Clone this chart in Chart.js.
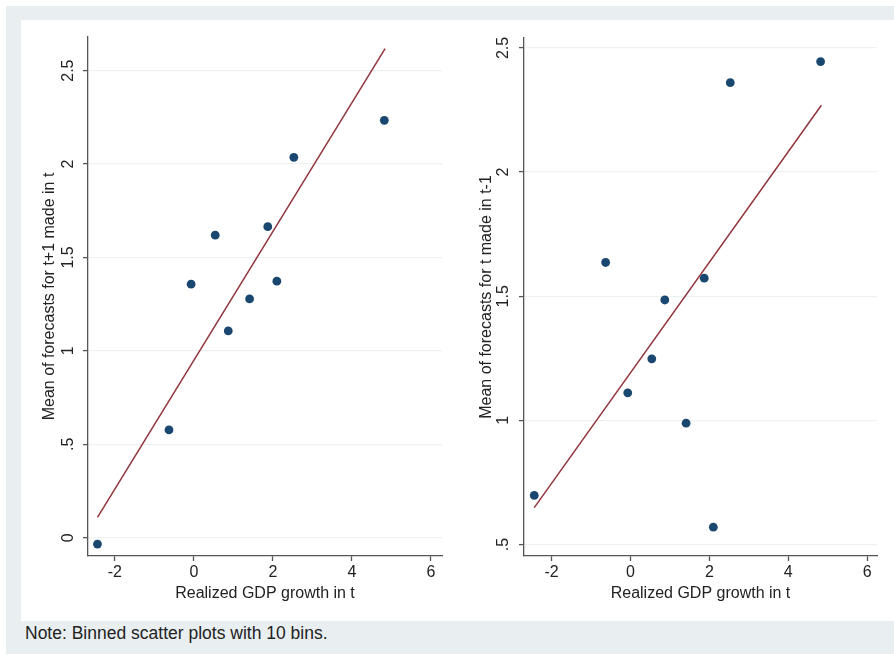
<!DOCTYPE html>
<html>
<head>
<meta charset="utf-8">
<script src="https://cdn.jsdelivr.net/npm/chart.js@4.4.1/dist/chart.umd.min.js"></script>
<style>
  html, body { margin: 0; padding: 0; background: #ffffff; width: 894px; height: 655px; overflow: hidden; }
  #frame { position: absolute; left: 6px; top: 6px; width: 888px; height: 648px; background: #e9eff1; }
  #panel { position: absolute; left: 21px; top: 20px; width: 873px; height: 601px; background: #ffffff; }
  .box { position: absolute; top: 20px; height: 600px; }
  #leftBox { left: 21px; width: 436px; }
  #rightBox { left: 457px; width: 437px; }
  #note { position: absolute; left: 25px; top: 623px; font-family: "Liberation Sans", Arial, sans-serif; font-size: 17.5px; color: #222; white-space: nowrap; }
</style>
</head>
<body>
<div id="frame"></div>
<div id="panel"></div>
<div class="box" id="leftBox"><canvas id="cLeft" width="436" height="600"></canvas></div>
<div class="box" id="rightBox"><canvas id="cRight" width="437" height="600"></canvas></div>
<div id="note">Note: Binned scatter plots with 10 bins.</div>
<script>
// ---- data ----
const gdpBins = [-2.44, -0.63, -0.07, 0.54, 0.87, 1.41, 1.87, 2.10, 2.53, 4.82];
const forecastNext = [-0.034, 0.577, 1.357, 1.619, 1.107, 1.278, 1.665, 1.373, 2.036, 2.234];
const forecastPrev = [0.698, 1.636, 1.111, 1.248, 1.485, 0.989, 1.573, 0.570, 2.360, 2.445];
const fitX = [-2.44, 4.84];
const fitNext = [0.109, 2.618];
const fitPrev = [0.649, 2.269];
const xTicks = [-2, 0, 2, 4, 6];
const yTicksLeft = [0, 0.5, 1, 1.5, 2, 2.5];
const yTicksRight = [0.5, 1, 1.5, 2, 2.5];
const xTitle = "Realized GDP growth in t";
const yTitleLeft = "Mean of forecasts for t+1 made in t";
const yTitleRight = "Mean of forecasts for t made in t-1";

const FONT = '"Liberation Sans", Arial, sans-serif';
const NAVY = '#1a476f';
const MAROON = '#90353b';
const AXIS = '#555555';
const GRID = '#edf1f2';
const TEXT = '#222222';

function stataLabel(v) {
  let s = String(Math.round(v * 100) / 100);
  if (s.startsWith('0.')) s = s.slice(1);
  return s;
}

function makeChart(id, yVals, fitY, yTicks, yTitle, cfg) {
  const pts = gdpBins.map((x, i) => ({ x: x, y: yVals[i] }));
  const fit = fitX.map((x, i) => ({ x: x, y: fitY[i] }));
  const rotatedTicks = {
    id: 'rotatedTicks',
    afterDraw(chart) {
      const sc = chart.scales.y;
      const ctx = chart.ctx;
      ctx.save();
      ctx.fillStyle = TEXT;
      ctx.font = '16px ' + FONT;
      ctx.textAlign = 'center';
      ctx.textBaseline = 'middle';
      sc.ticks.forEach(t => {
        const y = sc.getPixelForValue(t.value);
        ctx.save();
        ctx.translate(cfg.tickX, y);
        ctx.rotate(-Math.PI / 2);
        ctx.fillText(stataLabel(t.value), 0, 0);
        ctx.restore();
      });
      ctx.restore();
    }
  };
  return new Chart(document.getElementById(id), {
    type: 'scatter',
    data: {
      datasets: [
        {
          type: 'line',
          data: fit,
          borderColor: MAROON,
          borderWidth: 1.5,
          pointRadius: 0,
          fill: false,
          order: 2
        },
        {
          type: 'scatter',
          data: pts,
          backgroundColor: NAVY,
          borderColor: NAVY,
          pointRadius: 4.4,
          borderWidth: 0,
          order: 1
        }
      ]
    },
    options: {
      responsive: false,
      animation: false,
      devicePixelRatio: 1,
      layout: { padding: cfg.padding },
      plugins: { legend: { display: false }, tooltip: { enabled: false }, title: { display: false } },
      scales: {
        x: {
          type: 'linear',
          min: cfg.xMin, max: cfg.xMax,
          afterBuildTicks: s => { s.ticks = xTicks.map(v => ({ value: v })); },
          afterFit: s => { s.height = 64; s.paddingLeft = 0; s.paddingRight = 0; },
          border: { color: AXIS, width: 1.3 },
          grid: { drawOnChartArea: false, drawTicks: true, tickLength: 5, tickColor: AXIS, tickWidth: 1.3 },
          ticks: { color: TEXT, font: { family: FONT, size: 16 }, padding: 2, maxRotation: 0, minRotation: 0, callback: v => stataLabel(v) },
          title: { display: true, text: xTitle, color: TEXT, font: { family: FONT, size: 16 }, padding: { top: 0, bottom: 17 } }
        },
        y: {
          type: 'linear',
          min: cfg.yMin, max: cfg.yMax,
          afterBuildTicks: s => { s.ticks = yTicks.map(v => ({ value: v })); },
          afterFit: s => { s.width = 67; s.paddingTop = 0; s.paddingBottom = 0; },
          border: { color: AXIS, width: 1.3 },
          grid: { color: GRID, lineWidth: 1.2, drawTicks: true, tickLength: 5, tickColor: AXIS, tickWidth: 1.3 },
          ticks: { display: false },
          title: { display: true, text: yTitle, color: TEXT, font: { family: FONT, size: 16 }, padding: { top: cfg.titlePad, bottom: 0 } }
        }
      }
    },
    plugins: [rotatedTicks]
  });
}

makeChart('cLeft', forecastNext, fitNext, yTicksLeft, yTitleLeft, {
  padding: { left: 0, top: 17, right: 15, bottom: 0 },
  xMin: -2.68, xMax: 6.28, yMin: -0.098, yMax: 2.68, tickX: 48, titlePad: 19
});
makeChart('cRight', forecastPrev, fitPrev, yTicksRight, yTitleRight, {
  padding: { left: 0, top: 18, right: 17, bottom: 0 },
  xMin: -2.70, xMax: 6.25, yMin: 0.454, yMax: 2.54, tickX: 47, titlePad: 20
});
</script>
</body>
</html>
